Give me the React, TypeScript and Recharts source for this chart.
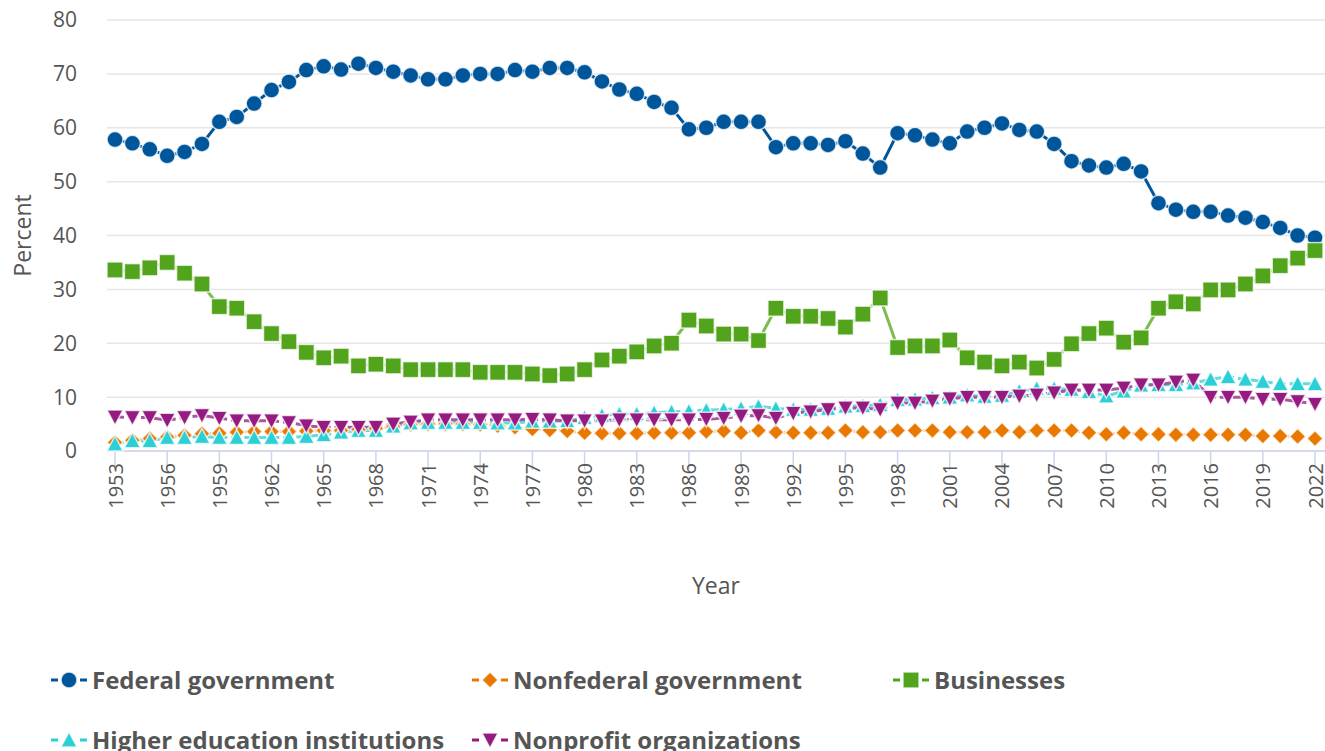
import React from "react";
import { LineChart, Line, XAxis, YAxis, CartesianGrid, Label } from "recharts";

const years = Array.from({ length: 70 }, (_, i) => String(1953 + i));

const federal = [
  57.8, 57.1, 56, 54.8, 55.5, 57, 61.1, 62, 64.5, 67, 68.5, 70.7, 71.4, 70.8, 71.9, 71.1, 70.4, 69.7, 69, 69,
  69.7, 70, 70, 70.7, 70.4, 71.1, 71.1, 70.3, 68.6, 67.1, 66.3, 64.8, 63.7, 59.7, 60, 61.1, 61.1, 61.1, 56.4, 57.1,
  57.1, 56.8, 57.5, 55.2, 52.6, 59, 58.6, 57.8, 57.1, 59.3, 60, 60.8, 59.6, 59.3, 57, 53.8, 53, 52.6, 53.3, 51.9,
  46, 44.8, 44.4, 44.4, 43.7, 43.3, 42.5, 41.4, 40, 39.6,
];
const nonfederal = [
  1.6, 2.0, 2.3, 2.6, 2.9, 3.2, 3.3, 3.5, 3.6, 3.6, 3.6, 3.7, 3.8, 3.8, 4.0, 4.2, 4.5, 4.9, 5.0, 5.0,
  5.0, 4.9, 4.7, 4.4, 4.1, 3.9, 3.7, 3.4, 3.3, 3.3, 3.3, 3.4, 3.4, 3.4, 3.6, 3.7, 3.4, 3.8, 3.5, 3.4,
  3.4, 3.4, 3.8, 3.5, 3.5, 3.8, 3.8, 3.8, 3.5, 3.5, 3.5, 3.8, 3.5, 3.8, 3.8, 3.8, 3.4, 3.1, 3.4, 3.1,
  3.1, 3.0, 3.0, 3.0, 3.0, 3.0, 2.8, 2.8, 2.7, 2.3,
];
const businesses = [
  33.6, 33.3, 34, 35, 33, 31, 26.8, 26.5, 24, 21.8, 20.3, 18.3, 17.3, 17.6, 15.8, 16.1, 15.8, 15.1, 15.1, 15.1,
  15.1, 14.6, 14.6, 14.6, 14.3, 14, 14.3, 15.1, 16.9, 17.6, 18.4, 19.5, 20, 24.3, 23.2, 21.7, 21.7, 20.5, 26.5, 25,
  25, 24.6, 23, 25.4, 28.4, 19.2, 19.5, 19.5, 20.6, 17.3, 16.5, 15.8, 16.5, 15.4, 17, 19.9, 21.8, 22.8, 20.2, 21,
  26.5, 27.7, 27.3, 29.9, 29.9, 31, 32.5, 34.4, 35.8, 37.2,
];
const higherEd = [
  1.3, 1.9, 1.9, 2.5, 2.5, 2.7, 2.5, 2.5, 2.5, 2.5, 2.5, 2.7, 3, 3.5, 3.8, 3.8, 4.6, 5.2, 5.3, 5.3,
  5.3, 5.3, 5.2, 5.2, 5.5, 5.5, 5.6, 6.2, 6.6, 6.9, 6.9, 7.1, 7.3, 7.4, 7.6, 7.7, 7.9, 8.3, 7.9, 7.7,
  7.7, 7.9, 8.3, 8.4, 8.6, 9.5, 9.6, 9.9, 10, 10.4, 10.1, 10.3, 11.1, 11.6, 11.6, 11.4, 11.0, 10.2, 11.1, 12.2,
  12.3, 12.3, 12.6, 13.3, 13.8, 13.3, 12.9, 12.5, 12.5, 12.5,
];
const nonprofit = [
  6.3, 6.2, 6.2, 5.7, 6.2, 6.6, 6.1, 5.6, 5.6, 5.6, 5.3, 4.7, 4.4, 4.4, 4.4, 4.4, 5, 5.4, 5.8, 5.8,
  5.8, 5.8, 5.8, 5.8, 5.9, 5.8, 5.6, 5.6, 5.6, 5.8, 5.8, 5.8, 5.8, 5.8, 5.9, 6.1, 6.5, 6.6, 6.1, 7,
  7.3, 7.7, 8, 8, 7.7, 8.9, 8.9, 9.3, 9.7, 10, 10, 10, 10.2, 10.4, 10.8, 11.3, 11.3, 11.3, 11.7, 12.3,
  12.3, 12.8, 13.2, 10, 10, 10, 9.6, 9.6, 9.2, 8.7,
];

const yTicks = [0, 10, 20, 30, 40, 50, 60, 70, 80];

const data = years.map((year, i) => ({
  year,
  federal: federal[i],
  nonfederal: nonfederal[i],
  businesses: businesses[i],
  higherEd: higherEd[i],
  nonprofit: nonprofit[i],
}));

const FONT = "'Open Sans', sans-serif";
const TEXT = "#555555";
const OUTLINE = "rgba(255,255,255,0.75)";

type Shape = "circle" | "diamond" | "square" | "up" | "down";

const markerEl = (shape: Shape, cx: number, cy: number, color: string, key?: string) => {
  const s = 8;
  if (shape === "circle")
    return <circle key={key} cx={cx} cy={cy} r={s} fill={color} stroke={OUTLINE} strokeWidth={1.5} />;
  if (shape === "square")
    return <rect key={key} x={cx - s} y={cy - s} width={2 * s} height={2 * s} fill={color} stroke={OUTLINE} strokeWidth={1.5} />;
  if (shape === "diamond")
    return (
      <polygon key={key} points={`${cx},${cy - s} ${cx + s},${cy} ${cx},${cy + s} ${cx - s},${cy}`}
        fill={color} stroke={OUTLINE} strokeWidth={1.5} />
    );
  if (shape === "up")
    return (
      <polygon key={key} points={`${cx},${cy - s} ${cx + s},${cy + s - 1} ${cx - s},${cy + s - 1}`}
        fill={color} stroke={OUTLINE} strokeWidth={1.5} />
    );
  return (
    <polygon key={key} points={`${cx},${cy + s} ${cx + s},${cy - s + 1} ${cx - s},${cy - s + 1}`}
      fill={color} stroke={OUTLINE} strokeWidth={1.5} />
  );
};

const series = [
  { key: "federal", name: "Federal government", color: "#00569b", line: "#00569b", dash: undefined, shape: "circle" as Shape },
  { key: "nonfederal", name: "Nonfederal government", color: "#e87800", line: "#f4b57a", dash: "2 3", shape: "diamond" as Shape },
  { key: "businesses", name: "Businesses", color: "#52a41c", line: "#7dbd50", dash: undefined, shape: "square" as Shape },
  { key: "higherEd", name: "Higher education institutions", color: "#2ccfd6", line: "#62dadf", dash: "9 4", shape: "up" as Shape },
  { key: "nonprofit", name: "Nonprofit organizations", color: "#951b81", line: "#ab55a0", dash: "9 4", shape: "down" as Shape },
];

const XTick = (props: any) => {
  const { x, y, payload } = props;
  return (
    <text
      x={0}
      y={0}
      transform={`translate(${x},${y - 9}) rotate(-90)`}
      textAnchor="end"
      dominantBaseline="central"
      fill={TEXT}
      fontSize={20}
      fontFamily={FONT}
    >
      {payload.value}
    </text>
  );
};

const LegendItem = ({ s }: { s: (typeof series)[number] }) => (
  <div style={{ display: "flex", alignItems: "center" }}>
    <svg width={40} height={22} style={{ marginRight: 1 }}>
      <line x1={0} y1={11} x2={36} y2={11} stroke={s.color} strokeWidth={3} strokeDasharray="7 22 7" />
      {markerEl(s.shape, 18, 11, s.color)}
    </svg>
    <span style={{ fontWeight: 700, fontSize: 24, color: TEXT, fontFamily: FONT, whiteSpace: "nowrap", lineHeight: "30px" }}>
      {s.name}
    </span>
  </div>
);

export default function App() {
  return (
    <div style={{ position: "fixed", left: 0, top: 0, width: 1325, height: 751, overflow: "hidden", background: "#fff" }}>
      <LineChart width={1325} height={620} data={data} margin={{ top: 20, right: 0, bottom: 19, left: 0 }}>
        <CartesianGrid vertical={false} stroke="#e6e6e6" strokeWidth={1.5} />
        <XAxis
          dataKey="year"
          interval={2}
          height={150}
          tick={<XTick />}
          tickSize={19}
          tickLine={{ stroke: "#ccd6eb", strokeWidth: 1.5 }}
          axisLine={{ stroke: "#ccd6eb", strokeWidth: 1.5 }}
          padding={{ left: 8, right: 10 }}
        >
          <Label value="Year" position="center" dy={60} fill={TEXT} fontSize={23} fontFamily={FONT} />
        </XAxis>
        <YAxis
          domain={[0, 80]}
          ticks={yTicks}
          width={107}
          tickSize={0}
          tickMargin={30}
          axisLine={false}
          tickLine={false}
          tick={{ fill: TEXT, fontSize: 21, fontFamily: FONT }}
        >
          <Label value="Percent" angle={-90} position="center" dx={-31} fill={TEXT} fontSize={23} fontFamily={FONT} />
        </YAxis>
        {series.map((s) => (
          <Line
            key={s.key}
            dataKey={s.key}
            name={s.name}
            type="linear"
            stroke={s.line}
            strokeWidth={3}
            strokeDasharray={s.dash}
            isAnimationActive={false}
            dot={(p: any) => markerEl(s.shape, p.cx, p.cy, s.color, `${s.key}-${p.index}`)}
            activeDot={false}
          />
        ))}
      </LineChart>
      <div style={{ position: "absolute", left: 51, top: 665, width: 1274 }}>
        <div style={{ display: "flex", height: 30 }}>
          <div style={{ width: 421 }}><LegendItem s={series[0]} /></div>
          <div style={{ width: 421 }}><LegendItem s={series[1]} /></div>
          <div><LegendItem s={series[2]} /></div>
        </div>
        <div style={{ display: "flex", marginTop: 30 }}>
          <div style={{ width: 421 }}><LegendItem s={series[3]} /></div>
          <div><LegendItem s={series[4]} /></div>
        </div>
      </div>
    </div>
  );
}
